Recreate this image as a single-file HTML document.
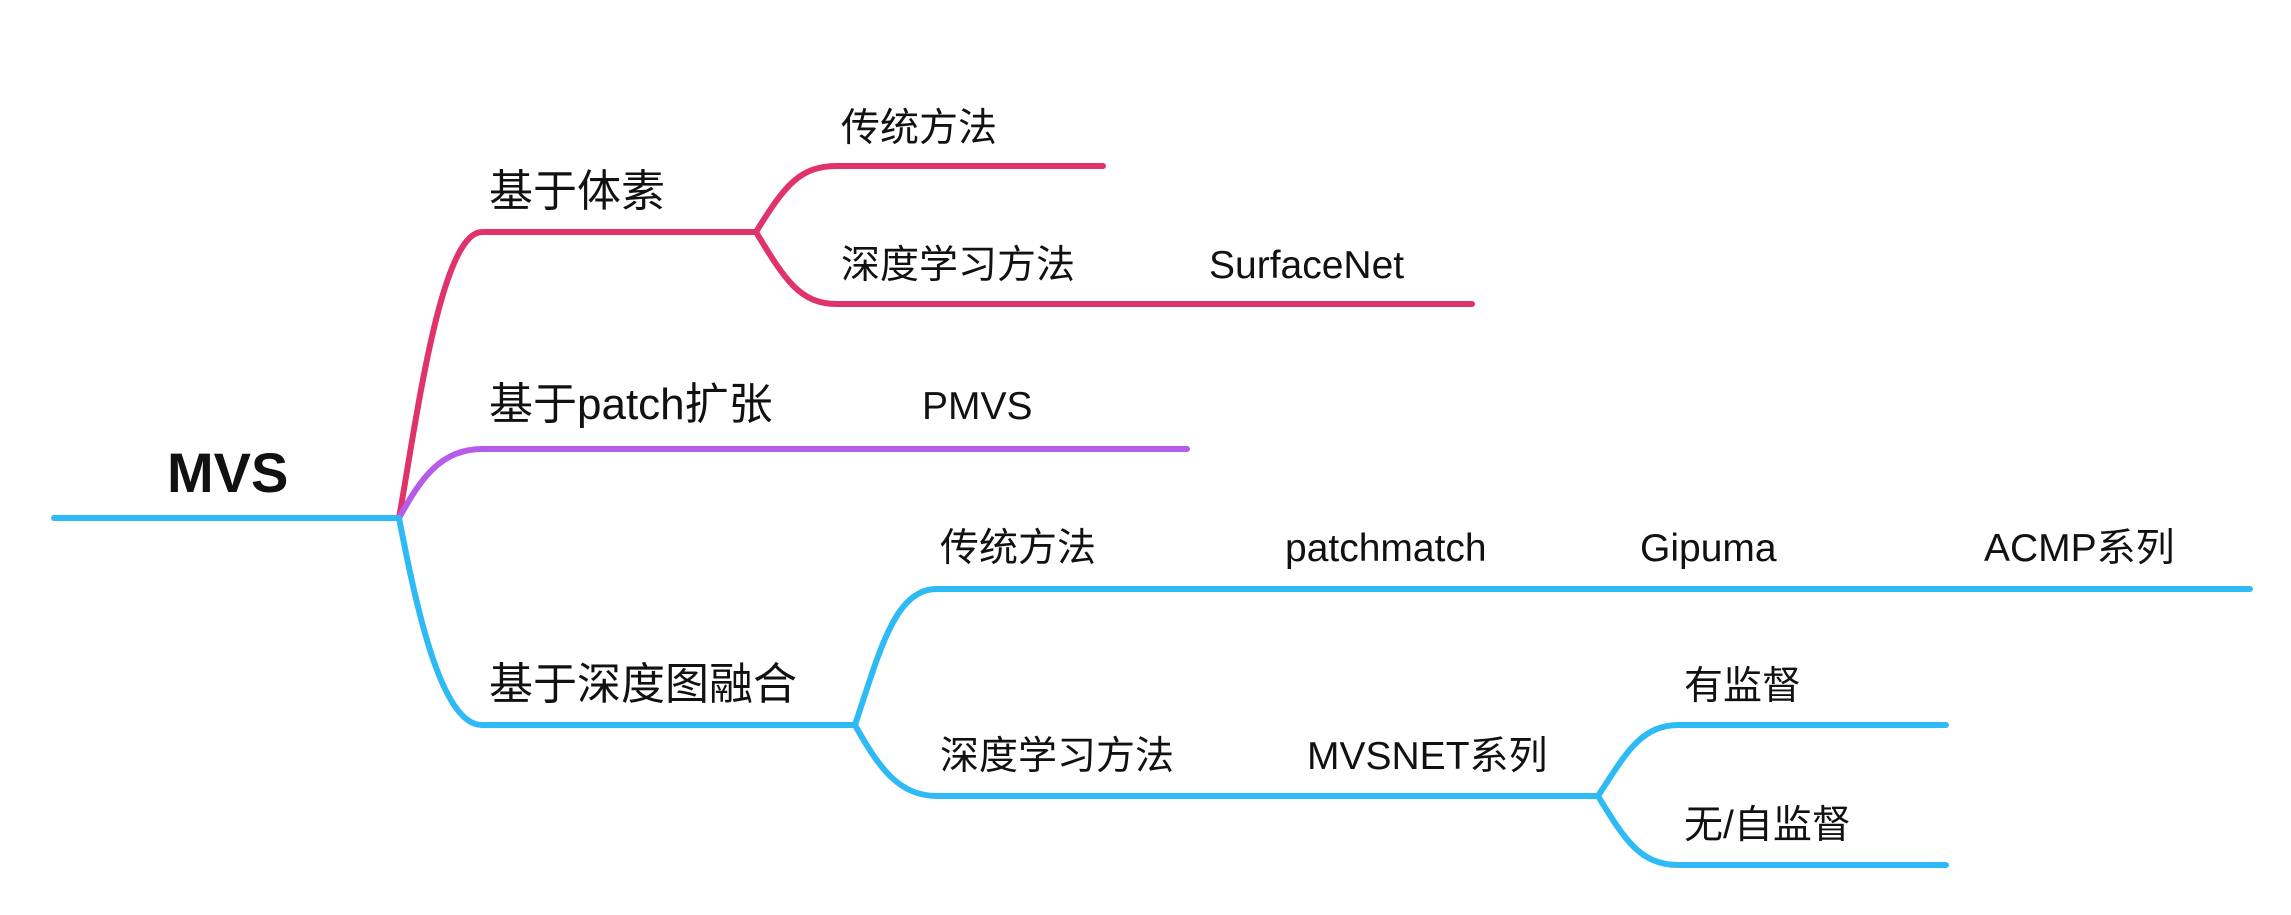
<!DOCTYPE html>
<html><head><meta charset="utf-8"><style>
html,body{margin:0;padding:0;background:#fff;}
svg{display:block;}
text{font-family:"Liberation Sans","Noto Sans CJK SC",sans-serif;fill:#111;}
</style></head><body>
<svg width="2291" height="915" viewBox="0 0 2291 915" xmlns="http://www.w3.org/2000/svg">
<g fill="none" stroke-width="6" stroke-linecap="round" stroke-linejoin="round">
<path d="M54 518 L399 518" stroke="#2EBAF5"/>
<path d="M399 518 C415 430 440 232 482 232 L756 232" stroke="#E0336A"/>
<path d="M756 232 C785 185 800 166 837 166 L1103 166" stroke="#E0336A"/>
<path d="M756 232 C785 280 800 304 837 304 L1472 304" stroke="#E0336A"/>
<path d="M399 518 C420 480 440 449 482 449 L1187 449" stroke="#B65CEB"/>
<path d="M399 518 C415 600 440 725 482 725 L855 725" stroke="#2EBAF5"/>
<path d="M855 725 C880 650 895 589 937 589 L2250 589" stroke="#2EBAF5"/>
<path d="M855 725 C880 770 900 796 937 796 L1598 796" stroke="#2EBAF5"/>
<path d="M1598 796 C1625 755 1640 725 1679 725 L1946 725" stroke="#2EBAF5"/>
<path d="M1598 796 C1625 840 1640 865 1679 865 L1946 865" stroke="#2EBAF5"/>
</g>
<text x="167" y="492" font-size="56" font-weight="bold">MVS</text>
<text x="489" y="206" font-size="44">基于体素</text>
<text x="841" y="141" font-size="39">传统方法</text>
<text x="841" y="278" font-size="39">深度学习方法</text>
<text x="1209" y="278" font-size="39">SurfaceNet</text>
<text x="489" y="419" font-size="44">基于patch扩张</text>
<text x="922" y="419" font-size="39">PMVS</text>
<text x="489" y="699" font-size="44">基于深度图融合</text>
<text x="940" y="561" font-size="39">传统方法</text>
<text x="1285" y="561" font-size="39">patchmatch</text>
<text x="1640" y="561" font-size="39">Gipuma</text>
<text x="1984" y="561" font-size="39">ACMP系列</text>
<text x="940" y="769" font-size="39">深度学习方法</text>
<text x="1307" y="769" font-size="39">MVSNET系列</text>
<text x="1684" y="699" font-size="39">有监督</text>
<text x="1684" y="838" font-size="39">无/自监督</text>
</svg>
</body></html>
